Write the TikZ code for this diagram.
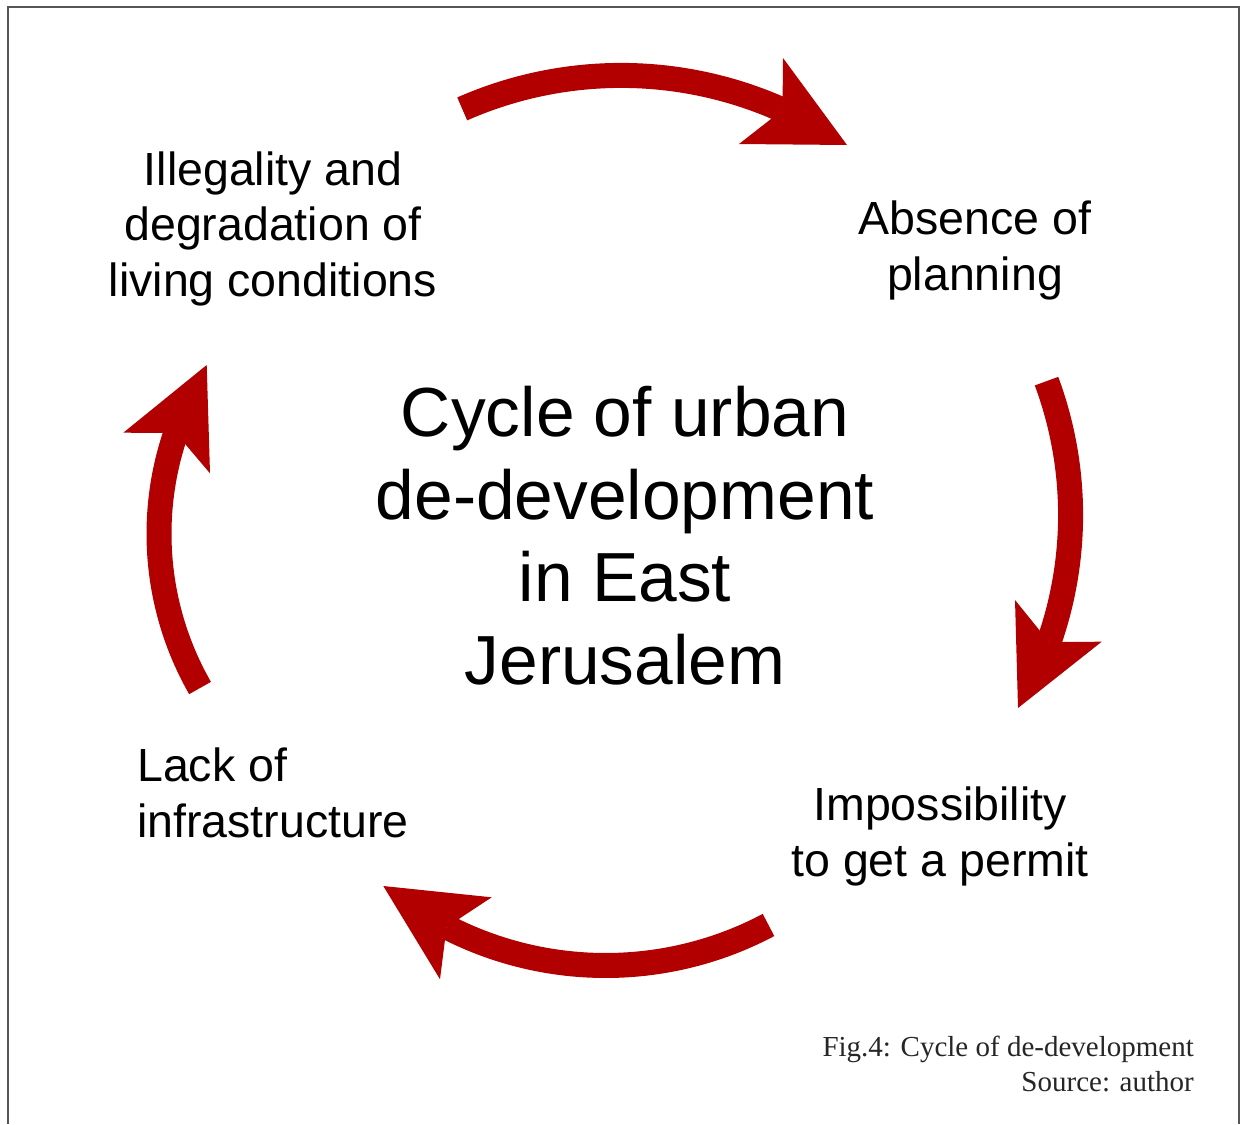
\documentclass[tikz,border=0pt]{standalone}
\usepackage{fontspec}
\setmainfont{Liberation Sans}
\newfontfamily\capfont{Liberation Serif}
\definecolor{cycred}{RGB}{178,0,0}
\definecolor{framegray}{RGB}{85,85,85}
\begin{document}
\begin{tikzpicture}[x=1pt,y=-1pt,
  shaft/.style={draw=cycred,line width=25pt,line cap=butt},
  head/.style={fill=cycred},
  lbl/.style={inner sep=0pt,align=center,font=\fontsize{46.5}{55.5}\selectfont},
  ttl/.style={inner sep=0pt,align=center,font=\fontsize{69.5}{82.5}\selectfont},
  capt/.style={inner sep=0pt,align=right,text=black!85,font=\capfont\fontsize{29}{35}\selectfont}]
\useasboundingbox (0,0) rectangle (1241,1124);
\fill[white] (0,0) rectangle (1241,1124);
% frame (no bottom edge)
\draw[framegray,line width=2pt] (8,1124) -- (8,7) -- (1239,7) -- (1239,1124);

% labels (base anchor = baseline of last line)
\node[lbl,anchor=base] (ill) at (273,296) {Illegality and\\degradation of\\living conditions};
\node[lbl,anchor=base] (abs) at (975,290) {Absence of\\planning};
\node[lbl,anchor=base] (imp) at (940,876) {Impossibility\\to get a permit};
\node[lbl,anchor=base west,align=left] (lack) at (137,837) {Lack of\\infrastructure};
\node[ttl,anchor=base] (title) at (625,684) {Cycle of urban\\de-development\\in East\\Jerusalem};
\node[capt,anchor=base east] (cap) at (1194,1091) {Fig.4: Cycle of de-development\\Source: author};

% top arrow
\coordinate (c1) at (621.13,469.2);
\draw[shaft] (c1) ++(-113.8:393.8) arc[start angle=-113.8,end angle=-65.8,radius=393.8];
\coordinate (t1) at (847,145);
\coordinate (w1a) at (783,58);
\coordinate (i1) at (782.5,110);
\coordinate (w1b) at (739,144);
\fill[head] (t1) -- (w1a) -- (i1) -- (w1b) -- cycle;

% right arrow
\coordinate (c2) at (686.7,514.96);
\draw[shaft] (c2) ++(-20.4:383.9) arc[start angle=-20.4,end angle=19.3,radius=383.9];
\coordinate (t2) at (1018,708);
\coordinate (w2a) at (1101.7,641.7);
\coordinate (i2) at (1049,642);
\coordinate (w2b) at (1015,600);
\fill[head] (t2) -- (w2a) -- (i2) -- (w2b) -- cycle;

% bottom arrow
\coordinate (c3) at (605.6,617.7);
\draw[shaft] (c3) ++(62.07:347.8) arc[start angle=62.07,end angle=117.2,radius=347.8];
\coordinate (t3) at (383.3,886);
\coordinate (w3a) at (440,979.3);
\coordinate (i3) at (446.6,927);
\coordinate (w3b) at (491.7,897.3);
\fill[head] (t3) -- (w3a) -- (i3) -- (w3b) -- cycle;

% left arrow
\coordinate (c4) at (469.3,533.8);
\draw[shaft] (c4) ++(150.2:310.3) arc[start angle=150.2,end angle=198.95,radius=310.3];
\coordinate (t4) at (206.7,365);
\coordinate (w4a) at (123.3,432.7);
\coordinate (i4) at (175.8,433);
\coordinate (w4b) at (210,473.3);
\fill[head] (t4) -- (w4a) -- (i4) -- (w4b) -- cycle;
\end{tikzpicture}
\end{document}
